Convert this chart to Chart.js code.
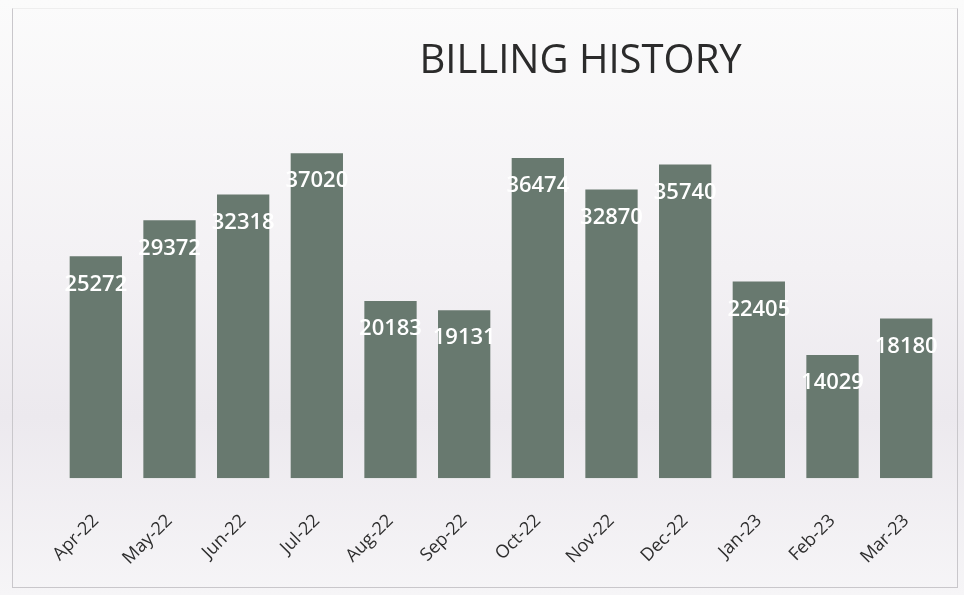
<!DOCTYPE html>
<html>
<head>
<meta charset="utf-8">
<script src="https://cdn.jsdelivr.net/npm/chart.js@4.4.1/dist/chart.umd.min.js"></script>
<style>
  html, body { margin: 0; padding: 0; background: #f7f6f8; }
  #wrap { position: relative; width: 964px; height: 595px;
          background: linear-gradient(180deg, #fbfbfb 0%, #f3f1f4 45%, #ece9ee 70%, #f6f5f7 100%); }
  #frame { position: absolute; left: 12px; top: 8px; width: 946px; height: 580px;
           border: 1px solid #c9c7cb; border-top-color: #eeeeee; box-sizing: border-box; }
  canvas { position: absolute; left: 0; top: 0; }
</style>
</head>
<body>
<div id="wrap">
  <div id="frame"></div>
  <canvas id="billing_chart" width="964" height="595"></canvas>
</div>
<script>
const months = ["Apr-22", "May-22", "Jun-22", "Jul-22", "Aug-22", "Sep-22",
                "Oct-22", "Nov-22", "Dec-22", "Jan-23", "Feb-23", "Mar-23"]
const bills = [25272, 29372, 32318, 37020, 20183, 19131,
               36474, 32870, 35740, 22405, 14029, 18180]
const chart_title = "BILLING HISTORY"

// white value labels drawn just under the top of each bar
const valueLabels = {
    id: 'valueLabels',
    afterDatasetsDraw(chart) {
        const ctx = chart.ctx
        const meta = chart.getDatasetMeta(0)
        ctx.save()
        ctx.fillStyle = '#ffffff'
        ctx.font = '600 22px "Open Sans"'
        ctx.textAlign = 'center'
        ctx.textBaseline = 'middle'
        meta.data.forEach((bar, i) => {
            ctx.fillText(bills[i], bar.x, bar.y + 28)
        })
        ctx.restore()
    }
}

// title sits right of centre, as in the original
const titleText = {
    id: 'titleText',
    afterDraw(chart) {
        const ctx = chart.ctx
        const area = chart.chartArea
        ctx.save()
        ctx.fillStyle = '#2b2b2b'
        ctx.font = '40px "Open Sans"'
        ctx.textAlign = 'center'
        ctx.textBaseline = 'middle'
        ctx.fillText(chart_title, area.left + area.width * 0.59, 62)
        ctx.restore()
    }
}

const billing_config = {
    type: 'bar',
    data: {
        labels: months,
        datasets: [{
            label: 'Bill',
            data: bills,
            backgroundColor: '#68796f',
            borderWidth: 0,
            barPercentage: 0.71,
            categoryPercentage: 1
        }]
    },
    options: {
        responsive: false,
        animation: false,
        layout: { padding: { left: 59, right: 21, top: 127, bottom: 2 } },
        plugins: {
            legend: { display: false },
            tooltip: { enabled: false }
        },
        scales: {
            y: { display: false, min: 0, max: 40000 },
            x: {
                grid: { display: false },
                border: { display: false },
                ticks: {
                    color: '#2e2e2e',
                    font: { family: '"Open Sans"', size: 18 },
                    maxRotation: 45,
                    minRotation: 45,
                    padding: 24
                }
            }
        }
    },
    plugins: [valueLabels, titleText]
}

const billing_chart = new Chart(document.getElementById('billing_chart'), billing_config)
</script>
</body>
</html>
